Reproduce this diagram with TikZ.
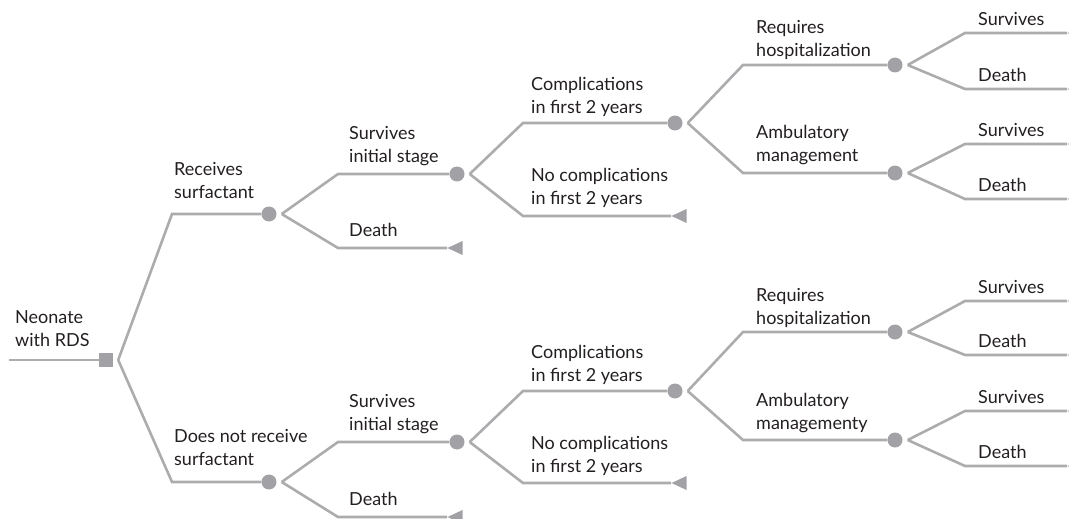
\documentclass[tikz,border=0pt]{standalone}
\usepackage{fontspec}
\setmainfont{Lato}
\usetikzlibrary{shapes.geometric}
\definecolor{ln}{RGB}{172,172,174}
\definecolor{nd}{RGB}{162,162,166}
\definecolor{tx}{RGB}{35,31,32}
\tikzset{
  conn/.style={draw=ln, line width=2.6pt},
  chance/.style={circle, fill=nd, minimum size=15pt, inner sep=0pt},
  decision/.style={rectangle, fill=nd, minimum size=14pt, inner sep=0pt},
  term/.style={isosceles triangle, isosceles triangle stretches, shape border rotate=180,
    fill=nd, minimum width=14pt, minimum height=15pt, inner sep=0pt, anchor=apex},
  lbl/.style={anchor=south west, inner sep=0pt, align=left, text depth=0pt, text=tx,
    font=\fontsize{18}{23.5}\selectfont},
}
\begin{document}
\begin{tikzpicture}[x=1pt,y=-1pt]
\path[use as bounding box, clip] (0,0) rectangle (1069,519);

% root
\node[decision] (R) at (106,360) {};
\coordinate (R0) at (9,360);
\draw[conn] (R0) -- (R);
\coordinate (Rf) at ([xshift=5pt]R.east);
\node[lbl] (LR) at (15,347) {Neonate\\with RDS};

% level 1
\node[chance] (A1) at (269,214) {};
\node[chance] (A2) at (269,482) {};
\coordinate (A1c) at (172,214);
\coordinate (A2c) at (172,482);
\draw[conn] (Rf) -- (A1c) -- (A1);
\draw[conn] (Rf) -- (A2c) -- (A2);
\node[lbl] (LA1) at (174,199) {Receives\\surfactant};
\node[lbl] (LA2) at (174,466) {Does not receive\\surfactant};
\coordinate (A1f) at ([xshift=5pt]A1.east);
\coordinate (A2f) at ([xshift=5pt]A2.east);

% level 2
\node[chance] (B1) at (457,174) {};
\node[term] (T1) at (447,248) {};
\coordinate (B1c) at (338,174);
\coordinate (T1c) at (338,248);
\draw[conn] (A1f) -- (B1c) -- (B1);
\draw[conn] (A1f) -- (T1c) -- (T1.apex);
\node[lbl] (LB1) at (349,163) {Survives\\initial stage};
\node[lbl] (LT1) at (349,237) {Death};

\node[chance] (B2) at (457,442) {};
\node[term] (T2) at (447,517) {};
\coordinate (B2c) at (338,442);
\coordinate (T2c) at (338,517);
\draw[conn] (A2f) -- (B2c) -- (B2);
\draw[conn] (A2f) -- (T2c) -- (T2.apex);
\node[lbl] (LB2) at (349,431) {Survives\\initial stage};
\node[lbl] (LT2) at (349,506) {Death};

\coordinate (B1f) at ([xshift=5pt]B1.east);
\coordinate (B2f) at ([xshift=5pt]B2.east);

% level 3
\node[chance] (C1) at (675,123) {};
\node[term] (T3) at (671,216) {};
\coordinate (C1c) at (523,123);
\coordinate (T3c) at (523,216);
\draw[conn] (B1f) -- (C1c) -- (C1);
\draw[conn] (B1f) -- (T3c) -- (T3.apex);
\node[lbl] (LC1) at (531,114) {Complications\\in first 2 years};
\node[lbl] (LT3) at (531,205) {No complications\\in first 2 years};

\node[chance] (C2) at (675,391) {};
\node[term] (T4) at (671,483) {};
\coordinate (C2c) at (523,391);
\coordinate (T4c) at (523,483);
\draw[conn] (B2f) -- (C2c) -- (C2);
\draw[conn] (B2f) -- (T4c) -- (T4.apex);
\node[lbl] (LC2) at (531,382) {Complications\\in first 2 years};
\node[lbl] (LT4) at (531,473) {No complications\\in first 2 years};

\coordinate (C1f) at ([xshift=5pt]C1.east);
\coordinate (C2f) at ([xshift=5pt]C2.east);

% level 4
\node[chance] (D1) at (895,65) {};
\node[chance] (D2) at (895,173) {};
\coordinate (D1c) at (743,65);
\coordinate (D2c) at (743,173);
\draw[conn] (C1f) -- (D1c) -- (D1);
\draw[conn] (C1f) -- (D2c) -- (D2);
\node[lbl] (LD1) at (756,57) {Requires\\hospitalization};
\node[lbl] (LD2) at (756,162) {Ambulatory\\management};

\node[chance] (D3) at (895,332) {};
\node[chance] (D4) at (895,440) {};
\coordinate (D3c) at (743,332);
\coordinate (D4c) at (743,440);
\draw[conn] (C2f) -- (D3c) -- (D3);
\draw[conn] (C2f) -- (D4c) -- (D4);
\node[lbl] (LD3) at (756,325) {Requires\\hospitalization};
\node[lbl] (LD4) at (756,430) {Ambulatory\\managementy};

% level 5
\foreach \n/\up/\dn in {D1/33/89, D2/144/199, D3/301/355, D4/411/466}{
  \coordinate (\n f) at ([xshift=5pt]\n.east);
  \node[term] (\n u) at (1067,\up) {};
  \node[term] (\n d) at (1067,\dn) {};
  \coordinate (\n uc) at (965,\up);
  \coordinate (\n dc) at (965,\dn);
  \draw[conn] (\n f) -- (\n uc) -- (\n u.apex);
  \draw[conn] (\n f) -- (\n dc) -- (\n d.apex);
  \node[lbl] (\n ul) at (978,\up-7) {Survives};
  \node[lbl] (\n dl) at (978,\dn-7) {Death};
}
\end{tikzpicture}
\end{document}
